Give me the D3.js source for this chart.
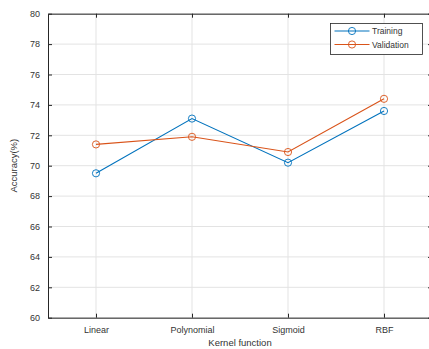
<!DOCTYPE html>
<html>
<head>
<meta charset="utf-8">
<script src="https://cdn.jsdelivr.net/npm/d3@7"></script>
<style>
  html, body { margin: 0; padding: 0; background: #fff; }
  svg { display: block; }
  text { font-family: "Liberation Sans", Arial, sans-serif; fill: #333; }
</style>
</head>
<body>
<svg id="chart" width="429" height="349"></svg>
<script>
const categories = ["Linear", "Polynomial", "Sigmoid", "RBF"];
const training = [69.5, 73.1, 70.2, 73.6];
const validation = [71.4, 71.9, 70.9, 74.4];
const yTicks = [60, 62, 64, 66, 68, 70, 72, 74, 76, 78, 80];
const seriesNames = ["Training", "Validation"];
const seriesColors = ["#0072BD", "#D95319"];

(function draw() {
  const svg = d3.select("#chart");
  const plotLeft = 48, plotRight = 432, plotTop = 13.7, plotBottom = 317.7;

  const x = d3.scaleLinear().domain([0.5, categories.length + 0.5]).range([plotLeft, plotRight]);
  const y = d3.scaleLinear().domain([60, 80]).range([plotBottom, plotTop]);
  const idx = categories.map((_, i) => i + 1);

  // grid
  const grid = svg.append("g");
  grid.selectAll(".gx").data(idx).join("line")
    .attr("x1", d => x(d)).attr("x2", d => x(d))
    .attr("y1", plotTop).attr("y2", plotBottom)
    .attr("stroke", "#e3e3e3").attr("stroke-width", 1);
  grid.selectAll(".gy").data(yTicks).join("line")
    .attr("x1", plotLeft).attr("x2", plotRight)
    .attr("y1", d => y(d)).attr("y2", d => y(d))
    .attr("stroke", "#e3e3e3").attr("stroke-width", 1);

  // axes (inward ticks on all four sides)
  const axisColor = "#262626";
  const styleAxis = g => {
    g.selectAll("path").attr("stroke", axisColor);
    g.selectAll(".tick line").attr("stroke", axisColor);
    g.selectAll("text").attr("font-size", 9).attr("fill", "#333")
      .style("font-family", "'Liberation Sans', Arial, sans-serif");
  };
  svg.append("g").attr("transform", `translate(0,${plotBottom})`)
    .call(d3.axisBottom(x).tickValues(idx).tickFormat(d => categories[d - 1])
      .tickSizeInner(-4).tickSizeOuter(0).tickPadding(9))
    .call(styleAxis);
  svg.append("g").attr("transform", `translate(0,${plotTop})`)
    .call(d3.axisTop(x).tickValues(idx).tickFormat("").tickSizeInner(-4).tickSizeOuter(0))
    .call(styleAxis);
  svg.append("g").attr("transform", `translate(${plotLeft},0)`)
    .call(d3.axisLeft(y).tickValues(yTicks).tickSizeInner(-4).tickSizeOuter(0).tickPadding(8))
    .call(styleAxis);
  svg.append("g").attr("transform", `translate(${plotRight},0)`)
    .call(d3.axisRight(y).tickValues(yTicks).tickFormat("").tickSizeInner(-4).tickSizeOuter(0))
    .call(styleAxis);

  // series
  const line = d3.line().x((d, i) => x(i + 1)).y(d => y(d));
  [training, validation].forEach((vals, s) => {
    svg.append("path").datum(vals)
      .attr("d", line).attr("fill", "none")
      .attr("stroke", seriesColors[s]).attr("stroke-width", 1.1);
    svg.append("g").selectAll("circle").data(vals).join("circle")
      .attr("cx", (d, i) => x(i + 1)).attr("cy", d => y(d)).attr("r", 3.6)
      .attr("fill", "none").attr("stroke", seriesColors[s]).attr("stroke-width", 0.9);
  });

  // axis titles
  svg.append("text").attr("x", (plotLeft + plotRight) / 2).attr("y", 346)
    .attr("text-anchor", "middle").attr("font-size", 9.5).text("Kernel function");
  svg.append("text").attr("transform", `translate(17,${(plotTop + plotBottom) / 2}) rotate(-90)`)
    .attr("text-anchor", "middle").attr("font-size", 9.5).text("Accuracy(%)");

  // legend
  const lg = svg.append("g").attr("transform", "translate(330.5,23.5)");
  lg.append("rect").attr("width", 92).attr("height", 31)
    .attr("fill", "#fff").attr("stroke", "#262626").attr("stroke-width", 0.8);
  seriesNames.forEach((name, i) => {
    const yy = 7.5 + i * 13.5;
    lg.append("line").attr("x1", 4).attr("x2", 39).attr("y1", yy).attr("y2", yy)
      .attr("stroke", seriesColors[i]).attr("stroke-width", 1.1);
    lg.append("circle").attr("cx", 21.5).attr("cy", yy).attr("r", 3.6)
      .attr("fill", "none").attr("stroke", seriesColors[i]).attr("stroke-width", 0.9);
    lg.append("text").attr("x", 41.5).attr("y", yy + 3).attr("font-size", 8.5).text(name);
  });
})();
</script>
</body>
</html>
